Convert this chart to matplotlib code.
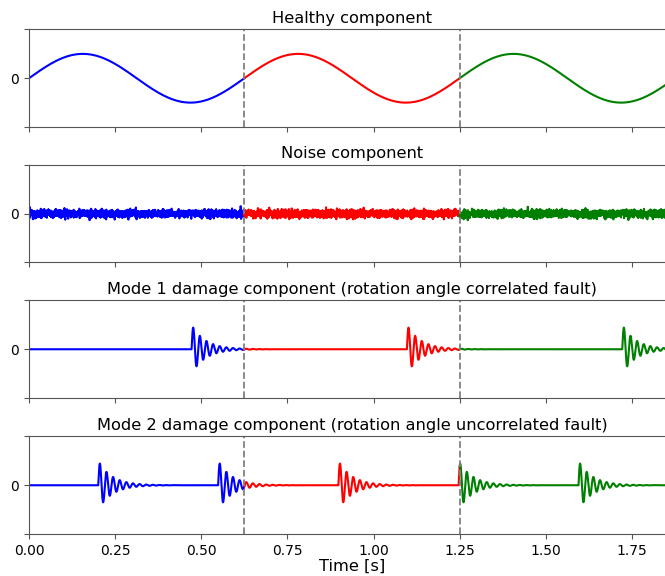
import numpy as np
import matplotlib
matplotlib.use('Agg')
import matplotlib.pyplot as plt

# signal settings
fs = 3200                      # samples per second
rev_period = 0.625             # one shaft revolution [s]
n_revs = 3
seg_colors = ['blue', 'red', 'green']

healthy_amp = 1.0
noise_std = 0.08

ring_freq = 52.0               # resonance excited by each impact [Hz]
ring_tau = 0.04                # decay constant [s]
ring_amp = 1.0

mode1_impacts = [0.472, 1.097, 1.722]
mode2_impacts = [0.201, 0.549, 0.898, 1.247, 1.595]

titles = ['Healthy component',
          'Noise component',
          'Mode 1 damage component (rotation angle correlated fault)',
          'Mode 2 damage component (rotation angle uncorrelated fault)']

xticks = [0.0, 0.25, 0.5, 0.75, 1.0, 1.25, 1.5, 1.75]
ylim = 2.0

t = np.arange(0, rev_period * n_revs, 1.0 / fs)


def impulses(times):
    sig = np.zeros_like(t)
    for t0 in times:
        dt = t - t0
        on = dt >= 0
        sig[on] += ring_amp * np.exp(-dt[on] / ring_tau) * np.sin(2 * np.pi * ring_freq * dt[on])
    return sig


healthy = healthy_amp * np.sin(2 * np.pi * t / rev_period)
rng = np.random.default_rng(3)
noise = rng.normal(0, noise_std, t.size)
mode1 = impulses(mode1_impacts)
mode2 = impulses(mode2_impacts)
signals = [healthy, noise, mode1, mode2]

fig = plt.figure(figsize=(6.65, 5.76), dpi=100)
bottoms = [0.7795, 0.5443, 0.3090, 0.0729]
axes = []
for i, b in enumerate(bottoms):
    ax = fig.add_axes([29 / 665, b, 646 / 665, 0.1693],
                      sharex=axes[0] if axes else None)
    axes.append(ax)

for ax, sig, title in zip(axes, signals, titles):
    for k in range(n_revs):
        lo = int(round(k * rev_period * fs))
        hi = int(round((k + 1) * rev_period * fs)) + 1
        ax.plot(t[lo:hi], sig[lo:hi], color=seg_colors[k], lw=1.5)
    for k in range(1, n_revs):
        ax.axvline(k * rev_period, color='gray', ls='--', lw=1.3)
    ax.set_title(title, fontsize=11.7, pad=5)
    ax.set_ylim(-ylim, ylim)
    ax.set_yticks([-ylim, 0, ylim])
    ax.set_yticklabels(['', '0', ''])
    for s in ax.spines.values():
        s.set_color('#555555')
    ax.tick_params(colors='#555555', labelcolor='black', labelsize=10)
    ax.set_xlim(0, rev_period * n_revs)
    ax.set_xticks(xticks)
    if ax is not axes[-1]:
        ax.tick_params(labelbottom=False)

axes[-1].set_xlabel('Time [s]', fontsize=11.7, labelpad=1)

fig.savefig('out.png', dpi=100)
